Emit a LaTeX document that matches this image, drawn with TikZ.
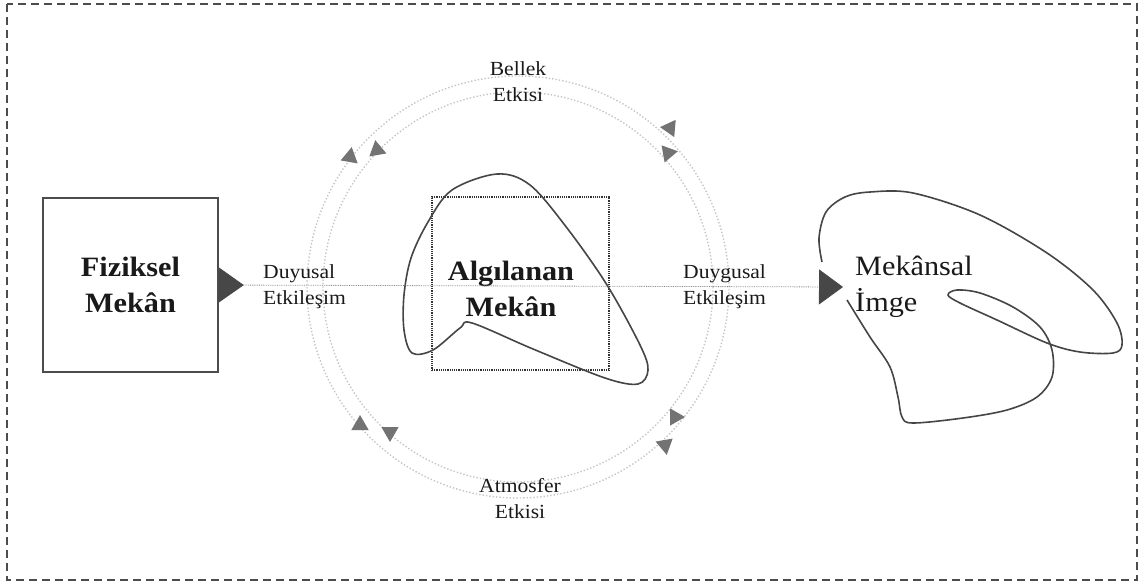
\documentclass[tikz,border=0pt]{standalone}
\usepackage{fontspec}
\setmainfont[FakeStretch=1.08]{Liberation Serif}
\usetikzlibrary{arrows.meta, positioning, shapes.geometric}

\begin{document}
\begin{tikzpicture}[
    x=1pt, y=-1pt,
    big/.style={font=\fontsize{28}{36}\selectfont, align=center, inner sep=0pt, text=black!90},
    bigbold/.style={big, font=\fontsize{28}{36}\selectfont\bfseries},
    small/.style={font=\fontsize{20}{26}\selectfont, inner sep=0pt, text=black!90},
    ring/.style={circle, draw=gray!45, dotted, line width=1.4pt, inner sep=0pt},
    cue/.style={isosceles triangle, isosceles triangle apex angle=60, fill=black!55, inner sep=0pt, minimum height=15pt},
    blob/.style={draw=black!73, line width=1.6pt},
    link/.style={draw=black!50, densely dotted, line width=0.8pt}
]
    \useasboundingbox (0,0) rectangle (1145,584);
    \draw[black!70, line width=2pt, dash pattern=on 8pt off 5pt] (7,4) rectangle (1137,580);

    % the two rings
    \node[ring, minimum size=422pt] (outer) at (518,287) {};
    \node[ring, minimum size=390pt] (inner) at (518,287) {};
    \node[cue, rotate=200] (m1) at (350,157) {};
    \node[cue, rotate=100] (m2) at (377,150) {};
    \node[cue, rotate=175] (m3) at (670,128) {};
    \node[cue, rotate=10] (m4) at (668,153) {};
    \node[cue, rotate=90] (m5) at (360,425) {};
    \node[cue, rotate=270] (m6) at (390,432) {};
    \node[cue, rotate=0] (m7) at (675,417) {};
    \node[cue, rotate=280] (m8) at (665,445) {};

    \node[small, align=center] (memory) at (518,82) {Bellek\\Etkisi};
    \node[small, align=center] (mood) at (520,499) {Atmosfer\\Etkisi};

    % perceived space
    \node[draw=black!80, densely dotted, line width=1.2pt, inner sep=0pt, minimum width=177pt, minimum height=173pt] (frame) at (520.5,283.5) {};
    \draw[blob] plot[smooth cycle, tension=0.55] coordinates {(497,174) (530,185) (567,228) (607,285) (640,345) (648,370) (638,384) (605,378) (533,349) (472,323) (460,328) (433,350) (412,353) (404,330) (404,295) (411,258) (428,222) (452,190)};
    \node[bigbold] (seen) at (511,289) {Algılanan\\Mekân};

    \node[bigbold, draw=black!70, line width=1.6pt, minimum width=175pt, minimum height=174pt] (phys) at (130.5,285) {Fiziksel\\Mekân};

    % spatial image
    \draw[blob] plot[smooth, tension=0.55] coordinates {(822,262) (819,238) (826,212) (845,197) (870,192) (913,193) (980,215) (1047,253) (1093,290) (1117,323) (1122,345) (1113,353) (1080,352) (1047,343) (997,320) (960,303) (948,295) (957,290) (980,293) (1013,307) (1040,327) (1052,350) (1052,377) (1037,397) (1007,410) (963,418) (913,423) (902,417) (898,397) (890,367) (870,337) (847,300)};
    \node[big, align=left, anchor=west] (img) at (855,287) {Mekânsal\\İmge};
    \coordinate[left=12pt of img.west] (imgin);

    \draw[link, {Triangle[reversed, length=25pt, width=35pt, color=black!72]}-{Triangle[length=24pt, width=35pt, color=black!72]}] (phys.east) -- (imgin);
    \node[small, align=left, anchor=west] (sense) at (263,287) {Duyusal\\Etkileşim};
    \node[small, align=left, anchor=west] (feel) at (683,287) {Duygusal\\Etkileşim};
\end{tikzpicture}
\end{document}
